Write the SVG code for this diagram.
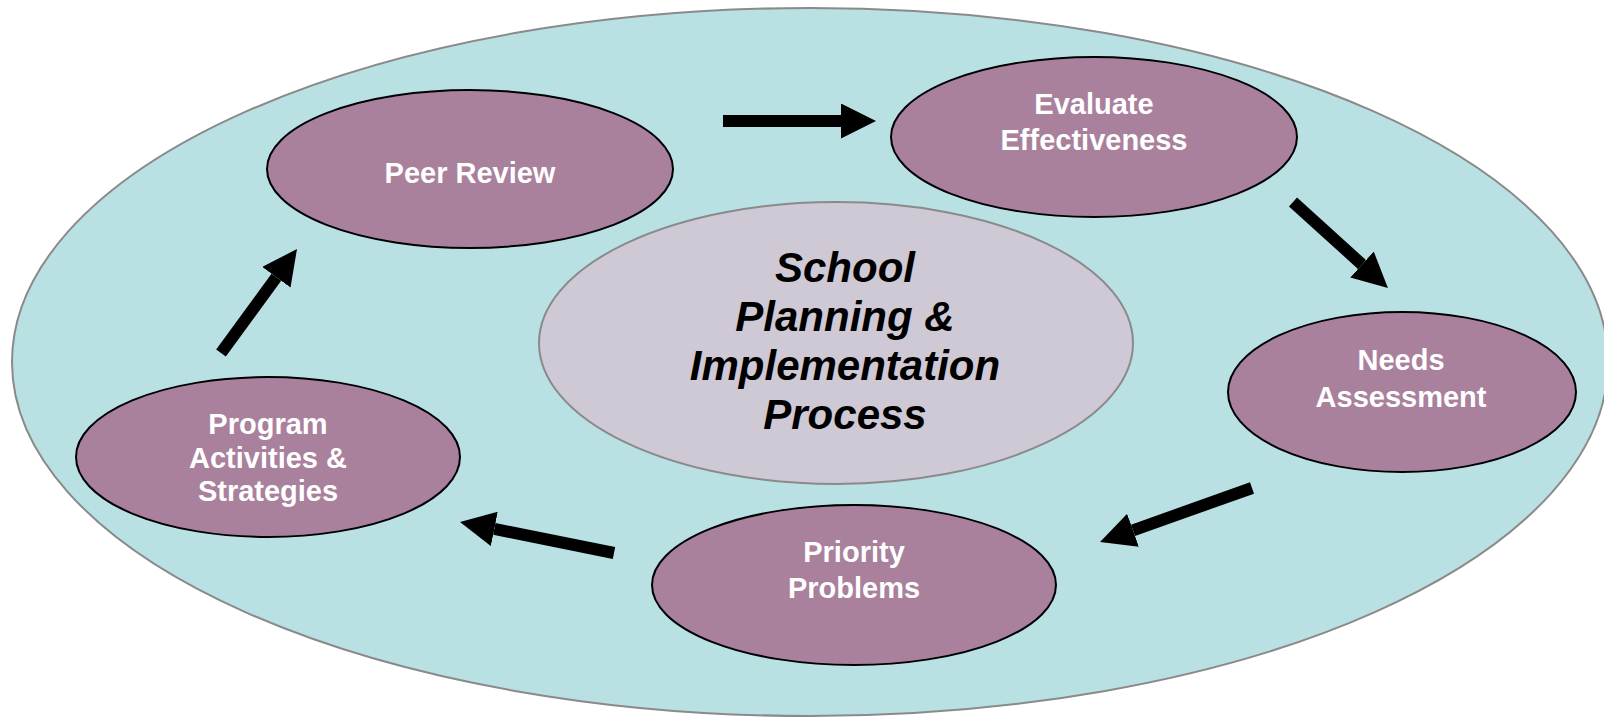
<svg xmlns="http://www.w3.org/2000/svg" width="1604" height="717" viewBox="0 0 1604 717">
<style>
.node{fill:#a9819c;stroke:#000;stroke-width:2}
.lbl{font-family:"Liberation Sans",Arial,sans-serif;font-weight:bold;font-size:29px;fill:#fff;text-anchor:middle}
.ctr{font-family:"Liberation Sans",Arial,sans-serif;font-weight:bold;font-style:italic;font-size:42px;fill:#000;text-anchor:middle}
.arr{stroke:#000;stroke-width:12;fill:none;marker-end:url(#ah)}
</style>
<defs>
<marker id="ah" markerUnits="userSpaceOnUse" markerWidth="35" markerHeight="35" viewBox="0 0 35 35" refX="0" refY="17.5" orient="auto">
<path d="M0,0 L35,17.5 L0,35 Z" fill="#000"/>
</marker>
</defs>
<rect width="1604" height="717" fill="#fff"/>
<g id="outer">
<ellipse cx="810" cy="362" rx="798" ry="354" fill="#b9e0e3" stroke="#8a8a8a" stroke-width="2"/>
</g>
<g id="center">
<ellipse cx="836" cy="343" rx="297" ry="141" fill="#cfc8d5" stroke="#8a8a8a" stroke-width="2"/>
<text class="ctr" x="845" y="282">School</text>
<text class="ctr" x="845" y="331">Planning &amp;</text>
<text class="ctr" x="845" y="380">Implementation</text>
<text class="ctr" x="845" y="429">Process</text>
</g>
<g id="peer-review">
<ellipse class="node" cx="470" cy="169" rx="203" ry="79"/>
<text class="lbl" x="470" y="183">Peer Review</text>
</g>
<g id="evaluate-effectiveness">
<ellipse class="node" cx="1094" cy="137" rx="203" ry="80"/>
<text class="lbl" x="1094" y="113.5">Evaluate</text>
<text class="lbl" x="1094" y="150">Effectiveness</text>
</g>
<g id="needs-assessment">
<ellipse class="node" cx="1402" cy="392" rx="174" ry="80"/>
<text class="lbl" x="1401" y="370">Needs</text>
<text class="lbl" x="1401" y="406.5">Assessment</text>
</g>
<g id="priority-problems">
<ellipse class="node" cx="854" cy="585" rx="202" ry="80"/>
<text class="lbl" x="854" y="562">Priority</text>
<text class="lbl" x="854" y="597.5">Problems</text>
</g>
<g id="program-activities">
<ellipse class="node" cx="268" cy="457" rx="192" ry="80"/>
<text class="lbl" x="268" y="434">Program</text>
<text class="lbl" x="268" y="467.5">Activities &amp;</text>
<text class="lbl" x="268" y="501">Strategies</text>
</g>
<g id="connectors">
<line class="arr" x1="723" y1="121" x2="841" y2="121"/>
<line class="arr" x1="1293" y1="202" x2="1362" y2="264.5"/>
<line class="arr" x1="1252" y1="488" x2="1133" y2="530.3"/>
<line class="arr" x1="614" y1="553" x2="494.3" y2="528.9"/>
<line class="arr" x1="221" y1="353" x2="276.35" y2="277.26"/>
</g>
</svg>
